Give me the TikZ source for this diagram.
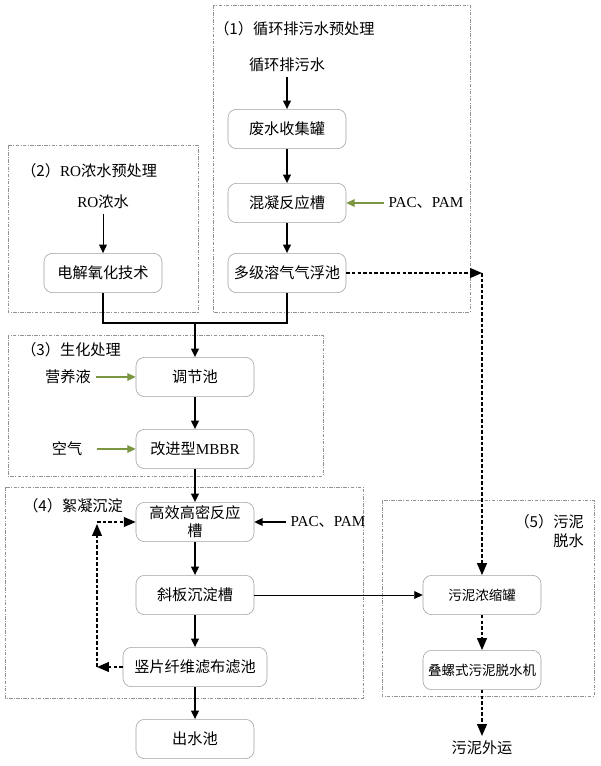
\documentclass[tikz,border=0pt]{standalone}
\usepackage{fontspec}
\setmainfont{Noto Sans CJK SC}
\newfontfamily\lat{Liberation Serif}
\usetikzlibrary{arrows.meta}
\definecolor{feedgreen}{RGB}{125,150,65}

\begin{document}
\begin{tikzpicture}[x=0.025cm,y=-0.025cm,
  font=\fontsize{10.8}{13}\selectfont,
  proc/.style={draw=gray!75,rounded corners=6pt,minimum width=2.95cm,minimum height=0.98cm,inner sep=1pt,align=center},
  region/.style={draw=gray!85,dash pattern=on 2.5pt off 1pt on 0.6pt off 1pt},
  flow/.style={line width=1.1pt,color=black,-{Triangle[length=6pt,width=5.5pt]}},
  slim/.style={line width=0.6pt,color=black,-{Triangle[length=6pt,width=5.5pt]}},
  feed/.style={line width=1pt,color=feedgreen,-{Triangle[length=6pt,width=5.5pt]}},
  mud/.style={line width=1.1pt,color=black,dash pattern=on 2.5pt off 1.5pt,-{Triangle[length=8.5pt,width=7pt]}}]
\useasboundingbox (0,0) rectangle (600,766);

% regions
\draw[region] (213,5) rectangle (470,312);
\draw[region] (8,145) rectangle (198,312);
\draw[region] (8,335) rectangle (323,476);
\draw[region] (5,487) rectangle (363,698);
\draw[region] (382,500) rectangle (594,696);

\node[anchor=west,inner sep=0pt] (t1) at (214,29) {（1）循环排污水预处理};
\node[anchor=west,inner sep=0pt] (t2) at (21,171) {（2）{\lat RO}浓水预处理};
\node[anchor=west,inner sep=0pt] (t3) at (21,350) {（3）生化处理};
\node[anchor=west,inner sep=0pt] (t4) at (23,506) {（4）絮凝沉淀};
\node[anchor=east,inner sep=0pt,align=right] (t5) at (584,531) {（5）污泥\\脱水};

% (1)
\node (inflow) at (287,65) {循环排污水};
\node[proc] (tank) at (287,129) {废水收集罐};
\node[proc] (coag) at (287,203) {混凝反应槽};
\node[proc] (daf) at (287,273) {多级溶气气浮池};
\node (pac1) at (426,203) {{\lat PAC}、{\lat PAM}};
\draw[flow] (inflow) -- (tank);
\draw[flow] (tank) -- (coag);
\draw[flow] (coag) -- (daf);
\draw[feed] (pac1) -- (coag);

% (2)
\node (ro) at (103,202) {{\lat RO}浓水};
\node[proc] (elec) at (103,273) {电解氧化技术};
\draw[slim] (ro) -- (elec);

% (3)
\coordinate (merge) at (195,323);
\node[proc] (adj) at (195,377) {调节池};
\node[proc] (mbbr) at (195,449) {改进型{\lat MBBR}};
\node (nutr) at (68,377) {营养液};
\node (air) at (67,449) {空气};
\draw[line width=1.1pt] (elec) |- (merge);
\draw[line width=1.1pt] (daf) |- (merge);
\draw[flow] (merge) -- (adj);
\draw[feed] (nutr) -- (adj);
\draw[feed] ([xshift=0.25cm]air.east) -- (mbbr);
\draw[flow] (adj) -- (mbbr);

% (4)
\node[proc] (hdr) at (195,522) {高效高密反应\\槽};
\node[proc] (slope) at (195,595) {斜板沉淀槽};
\node[proc,minimum width=3.6cm] (filt) at (195,667) {竖片纤维滤布滤池};
\node[proc] (outp) at (195,739) {出水池};
\node (pac2) at (328,522) {{\lat PAC}、{\lat PAM}};
\coordinate (rb) at (97,667);
\coordinate (rt) at (97,524);
\coordinate (rh) at (97,522);
\draw[flow] (mbbr) -- (hdr);
\draw[flow] (pac2) -- (hdr);
\draw[flow] (hdr) -- (slope);
\draw[flow] (slope) -- (filt);
\draw[flow] (filt) -- (outp);
\draw[mud] (filt) -- (rb);
\draw[mud] (rb) -- (rt);
\draw[mud] (rh) -- (hdr);

% (5)
\node[proc,font=\fontsize{9.6}{12}\selectfont] (thicken) at (482,595) {污泥浓缩罐};
\node[proc,font=\fontsize{9.6}{12}\selectfont] (press) at (482,670) {叠螺式污泥脱水机};
\node (haul) at (482,748) {污泥外运};
\coordinate (sj) at (482,273);
\draw[slim] (slope) -- (thicken);
\draw[mud] (daf) -- (sj);
\draw[mud] (sj) -- (thicken);
\draw[mud] (thicken) -- (press);
\draw[mud] (press) -- (haul);
\end{tikzpicture}
\end{document}
